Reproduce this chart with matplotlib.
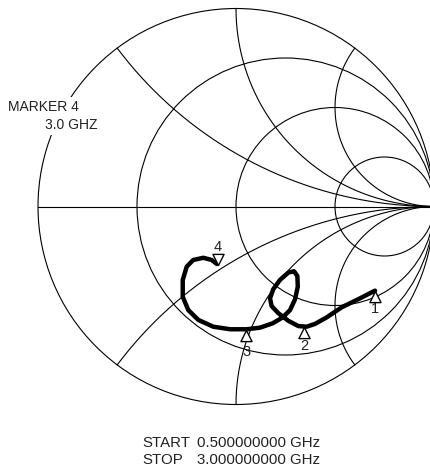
import numpy as np
import matplotlib
matplotlib.use("Agg")
import matplotlib.pyplot as plt
from matplotlib.patches import Circle

plt.rcParams['font.family'] = ['Liberation Sans', 'DejaVu Sans']

# Smith chart grid values
r_circles = [1/3, 1.0, 3.0]
x_arcs = [0.5, 1.0, 2.0, -0.5, -1.0, -2.0]

# Measured trace (reflection coefficient, real / imag), 0.5 -> 3.0 GHz
gam_re = [0.702, 0.626, 0.534, 0.458, 0.399, 0.357, 0.315, 0.264, 0.214, 0.180,
          0.172, 0.188, 0.222, 0.264, 0.293, 0.310, 0.312, 0.298, 0.273, 0.236,
          0.185, 0.121, 0.054, -0.030, -0.115, -0.190, -0.241, -0.269, -0.269,
          -0.249, -0.216, -0.165, -0.123, -0.097]
gam_im = [-0.425, -0.464, -0.509, -0.560, -0.593, -0.607, -0.604, -0.577, -0.539,
          -0.503, -0.464, -0.418, -0.371, -0.334, -0.327, -0.351, -0.405, -0.469,
          -0.523, -0.560, -0.590, -0.612, -0.620, -0.620, -0.607, -0.573, -0.523,
          -0.456, -0.371, -0.304, -0.270, -0.259, -0.270, -0.290]

# Markers
mk_labels = ["1", "2", "3", "4"]
mk_re = [0.702, 0.343, 0.051, -0.091]
mk_im = [-0.425, -0.607, -0.625, -0.295]
mk_off = [-13, -14, -16, 13]

fig = plt.figure(figsize=(4.30, 4.73), dpi=100)
ax = fig.add_axes([0, 0, 1, 1])
cx, cy, R = 236.0, 206.5, 198.0
ax.set_xlim(-cx / R, (430 - cx) / R)
ax.set_ylim((cy - 473) / R, cy / R)
ax.axis('off')

gc = 'black'
glw = 0.8

# outer circle and real axis
ax.add_patch(Circle((0, 0), 1.0, fill=False, color=gc, lw=glw))
ax.plot([-1, 1], [0, 0], color=gc, lw=glw)

# constant resistance circles
for r in r_circles:
    ax.add_patch(Circle((r / (1 + r), 0), 1 / (1 + r), fill=False, color=gc, lw=glw))

# constant reactance arcs
rr = np.concatenate([np.linspace(0, 5, 400), np.logspace(np.log10(5), 4, 300)])
for xv in x_arcs:
    z = rr + 1j * xv
    g = (z - 1) / (z + 1)
    ax.plot(g.real, g.imag, color=gc, lw=glw)
ax.plot([1], [0], 'o', color=gc, ms=2)

# trace
ax.plot(gam_re, gam_im, color='black', lw=3.2, solid_joinstyle='round',
        solid_capstyle='round', zorder=5)

# marker triangles (apex on the trace)
up = [(0, 0), (-0.5, -1), (0.5, -1), (0, 0)]
down = [(0, 0), (-0.5, 1), (0.5, 1), (0, 0)]
for i, lab in enumerate(mk_labels):
    inv = (lab == "4")
    ax.plot(mk_re[i], mk_im[i], marker=down if inv else up, ms=16,
            mfc='white', mec='black', mew=1.0, zorder=6)
    ax.annotate(lab, (mk_re[i], mk_im[i]), xytext=(0, mk_off[i]),
                textcoords='offset points', ha='center', va='center',
                fontsize=10.5, color='#222222', zorder=7)

# marker readout
box = dict(facecolor='white', edgecolor='none', pad=2.5)
fig.text(8 / 430, 1 - 107 / 473, "MARKER 4", fontsize=10, color='#222222',
         ha='left', va='center', bbox=box)
fig.text(45 / 430, 1 - 125 / 473, "3.0 GHZ", fontsize=10, color='#222222',
         ha='left', va='center', bbox=box)

# sweep info
fs = 10.8
fig.text(142 / 430, 1 - 443 / 473, "START", fontsize=fs, color='#222222', va='center')
fig.text(197 / 430, 1 - 443 / 473, "0.500000000 GHz", fontsize=fs, color='#222222', va='center')
fig.text(142 / 430, 1 - 460 / 473, "STOP", fontsize=fs, color='#222222', va='center')
fig.text(197 / 430, 1 - 460 / 473, "3.000000000 GHz", fontsize=fs, color='#222222', va='center')

fig.savefig("out.png", dpi=100)
